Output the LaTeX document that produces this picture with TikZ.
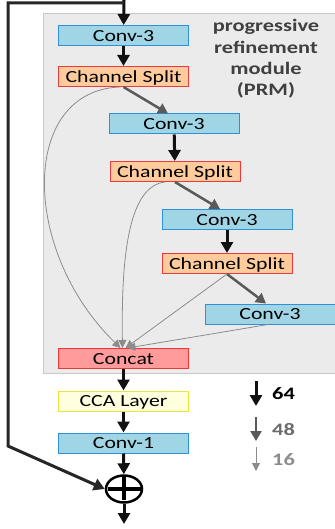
\documentclass[tikz,border=0pt]{standalone}
\usepackage{fontspec}
\setmainfont{Carlito}
\newfontfamily\boxfont[FakeStretch=1.28]{Carlito}
\usetikzlibrary{arrows.meta,shapes.geometric}

\definecolor{convfill}{HTML}{A0D5E6}
\definecolor{convline}{HTML}{2F8FD8}
\definecolor{splitfill}{HTML}{FDCB9C}
\definecolor{splitline}{HTML}{E83B3B}
\definecolor{catfill}{HTML}{FF9B9B}
\definecolor{catline}{HTML}{F03535}
\definecolor{ccafill}{HTML}{FFFFE0}
\definecolor{ccaline}{HTML}{E6E63C}
\definecolor{prmback}{HTML}{EBEBEB}
\definecolor{prmline}{HTML}{C8C8C8}
\definecolor{darkarrow}{HTML}{111111}
\definecolor{midgray}{HTML}{5A5A5A}
\definecolor{lightgray}{HTML}{8C8C8C}

\begin{document}
\begin{tikzpicture}[x=1pt, y=-1pt,
	block/.style={draw, minimum width=130pt, minimum height=20pt, inner sep=0pt,
		line width=1pt, text height=11.5pt, text depth=0pt,
		font=\boxfont\fontsize{17}{19}\selectfont},
	convbox/.style={block, fill=convfill, draw=convline},
	splitbox/.style={block, fill=splitfill, draw=splitline},
	catbox/.style={block, fill=catfill, draw=catline},
	ccabox/.style={block, fill=ccafill, draw=ccaline},
	bigarrow/.style={line width=3pt, draw=darkarrow, -{Triangle[length=11pt,width=12pt]}},
	midarrow/.style={line width=2.5pt, draw=midgray, -{Triangle[length=10pt,width=11pt]}},
	thinarrow/.style={line width=0.8pt, draw=lightgray, -{Triangle[length=8pt,width=8pt]}},
	legendtext/.style={anchor=west, inner sep=0pt, font=\boxfont\bfseries\fontsize{17.5}{19}\selectfont}]
	\useasboundingbox (0,0) rectangle (334,529);

	% PRM background
	\draw[fill=prmback, draw=prmline, line width=1pt] (43,14) rectangle (340,373);
	\node[align=center, text=black!75, font=\boxfont\bfseries\fontsize{17.5}{21.3}\selectfont]
		(prm) at (266,59) {progressive\\refinement\\module\\(PRM)};

	% blocks
	\node[convbox] (conva) at (123.5,35.5) {Conv-3};
	\node[splitbox] (splita) at (123.5,76.5) {Channel Split};
	\node[convbox] (convb) at (174,124) {Conv-3};
	\node[splitbox] (splitb) at (175,171.5) {Channel Split};
	\node[convbox] (convc) at (227,219.5) {Conv-3};
	\node[splitbox] (splitc) at (227,263.5) {Channel Split};
	\node[convbox] (convd) at (270,314) {Conv-3};
	\node[catbox] (concat) at (123.5,358.5) {Concat};
	\node[ccabox] (cca) at (123.5,401) {CCA Layer};
	\node[convbox] (convone) at (123.5,443) {Conv-1};
	\node[ellipse, draw, line width=2.5pt, minimum width=36pt, minimum height=27pt,
		inner sep=0pt] (sum) at (124,489) {};
	\draw[line width=4pt] (sum.center) +(-16,0) -- +(17,0);
	\draw[line width=4pt] (sum.center) +(0,-13) -- +(0,11);

	\coordinate (input) at (124,0);
	\coordinate (output) at (124,524);
	\coordinate (skipa) at (8,3);
	\coordinate (skipb) at (8,446);

	% main path
	\draw[bigarrow] (input) -- (conva);
	\draw[bigarrow] (conva) -- (splita);
	\draw[bigarrow] (convb) -- (splitb);
	\draw[bigarrow] (convc) -- (splitc);
	\draw[bigarrow] (concat) -- (cca);
	\draw[bigarrow] (cca) -- (convone);
	\draw[bigarrow] (convone) -- (sum);
	\draw[bigarrow] (sum) -- (output);
	\draw[bigarrow, draw=black!85] (124,3) -- (skipa) -- (skipb) -- (sum.west);

	% splits
	\draw[midarrow] (splita.south) -- ([xshift=-6pt]convb.north);
	\draw[midarrow] (splitb.south) -- ([xshift=-7pt]convc.north);
	\draw[midarrow] (splitc.south) -- ([xshift=-4pt]convd.north);

	% to concat
	\draw[thinarrow] ([xshift=-3pt]splita.south) .. controls (20,90) and (20,250) .. ([xshift=-3pt]concat.north);
	\draw[thinarrow] ([xshift=-10pt]splitb.south) .. controls (130,186) and (121,250) .. ([xshift=-1pt]concat.north);
	\draw[thinarrow] (splitc.south) -- ([xshift=2pt]concat.north);
	\draw[thinarrow] ([xshift=-2pt]convd.south) -- ([xshift=4pt]concat.north);

	% legend
	\coordinate (lega) at (256,381);
	\coordinate (legb) at (256,417);
	\coordinate (legc) at (256,447);
	\draw[bigarrow] (lega) -- ++(0,25);
	\draw[midarrow] (legb) -- ++(0,24);
	\draw[thinarrow] (legc) -- ++(0,24);
	\node[legendtext, text=black] (sixtyfour) at (272,394) {64};
	\node[legendtext, text=midgray!90] (fortyeight) at (272,430) {48};
	\node[legendtext, text=lightgray] (sixteen) at (272,460) {16};
\end{tikzpicture}
\end{document}
